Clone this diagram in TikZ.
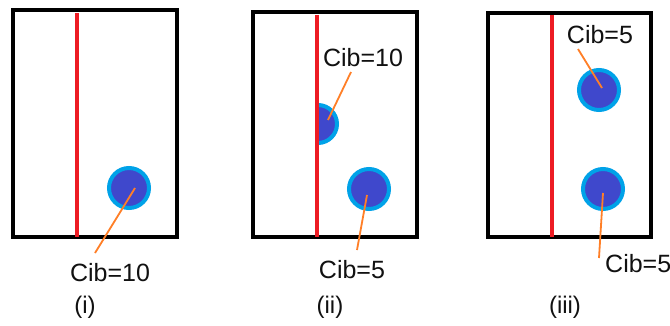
\documentclass[tikz,border=0pt]{standalone}
\usepackage{fontspec}
\setmainfont{Liberation Sans}
\definecolor{wallred}{HTML}{ED1C24}
\definecolor{leadorange}{HTML}{FF7F27}
\definecolor{ringblue}{HTML}{00A2E8}
\definecolor{coreblue}{HTML}{3F48CC}
\definecolor{inkblack}{HTML}{111111}
\begin{document}
\begin{tikzpicture}[x=1pt,y=-1pt,
  frame/.style={draw=black,line width=4pt},
  wall/.style={draw=wallred,line width=3.5pt},
  bubble/.style={fill=coreblue,draw=ringblue,line width=4pt},
  lead/.style={draw=leadorange,line width=1.8pt},
  lbl/.style={inner sep=0pt,text=inkblack,font=\fontsize{25}{30}\selectfont},
  caption/.style={inner sep=0pt,text=inkblack,font=\fontsize{24}{29}\selectfont}]
\useasboundingbox (0,0) rectangle (670,325);
\fill[white] (0,0) rectangle (670,325);

% ---- panel (i)
\draw[frame] (13,10) rectangle (177,237);
\draw[wall] (77,13) -- (77,237);
\draw[bubble] (129,188) circle[radius=20];
\coordinate (b1) at (135,188);
\node[lbl] (t1) at (110,273) {Cib=10};
\coordinate (e1) at (95,253);
\draw[lead] (b1) -- (e1);
\node[caption] (c1) at (85,307) {(i)};

% ---- panel (ii)
\draw[frame] (253,12) rectangle (417,237);
\begin{scope}
  \clip (317,90) rectangle (360,160);
  \draw[bubble] (318,124) circle[radius=19];
\end{scope}
\draw[wall] (317,15) -- (317,237);
\draw[bubble] (369,189) circle[radius=20];
\coordinate (b2) at (328,120);
\coordinate (e2) at (351,72);
\node[lbl] (t2) at (363,58) {Cib=10};
\draw[lead] (b2) -- (e2);
\coordinate (b3) at (367,195);
\coordinate (e3) at (357,250);
\node[lbl] (t3) at (352,270) {Cib=5};
\draw[lead] (b3) -- (e3);
\node[caption] (c2) at (330,307) {(ii)};

% ---- panel (iii)
\draw[frame] (488,13) rectangle (651,237);
\draw[wall] (552,15) -- (552,237);
\draw[bubble] (599,90) circle[radius=20];
\draw[bubble] (603,189) circle[radius=20];
\coordinate (b4) at (602,88);
\coordinate (e4) at (578,49);
\node[lbl] (t4) at (600,35) {Cib=5};
\draw[lead] (b4) -- (e4);
\coordinate (b5) at (603,193);
\coordinate (e5) at (599,258);
\node[lbl,anchor=west] (t5) at (605,264) {Cib=5};
\draw[lead] (b5) -- (e5);
\node[caption] (c3) at (565,307) {(iii)};
\end{tikzpicture}
\end{document}
